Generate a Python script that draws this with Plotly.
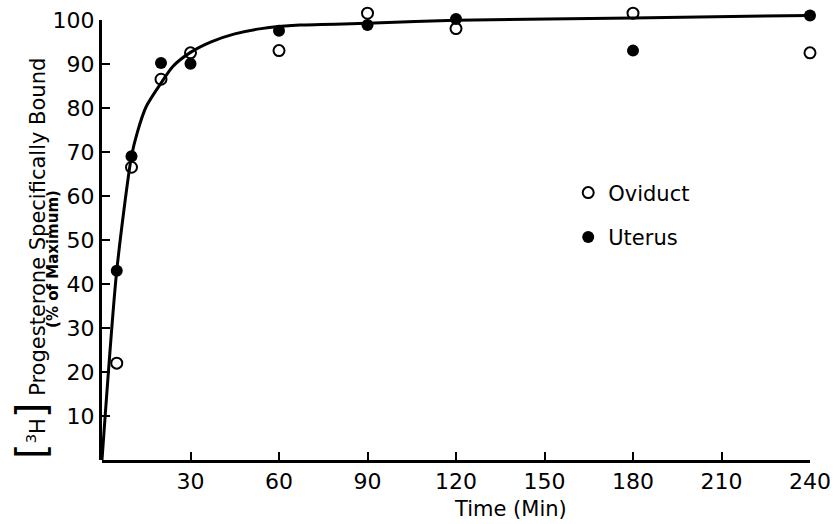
import plotly.graph_objects as go

# Incubation time (min)
time_min = [5, 10, 20, 30, 60, 90, 120, 180, 240]

# [3H]progesterone specifically bound (% of maximum)
oviduct = [22, 66.5, 86.5, 92.5, 93, 101.5, 98, 101.5, 92.5]
uterus = [43, 69, 90.2, 90, 97.5, 98.8, 100.2, 93, 101]

# Hand-drawn saturation curve through the points
curve_t = [0, 5, 10, 12, 15, 20, 24, 30, 37, 45, 54, 67, 90, 120, 180, 240]
curve_v = [0, 43, 69, 74.5, 80.3, 85.6, 89.4, 92.6, 95, 96.8, 98, 98.8, 99.2, 99.9, 100.4, 101]

x_ticks = [30, 60, 90, 120, 150, 180, 210, 240]
y_ticks = [10, 20, 30, 40, 50, 60, 70, 80, 90, 100]

FONT = "DejaVu Sans"

# Data axis runs a little past 100 so points above the maximum stay visible;
# the labelled axis covers 0-100 only.
Y_TOP = 102
PX_PER_UNIT = 4.4
BOTTOM = 64
plot_h = Y_TOP * PX_PER_UNIT
top_margin = 524 - BOTTOM - plot_h
axis_frac = 100 / Y_TOP


def paper_y(px):
    """Convert a page pixel row into paper coordinates."""
    return (524 - BOTTOM - px) / plot_h


fig = go.Figure()

# empty trace that carries the labelled 0-100 axis (drawn first, underneath)
fig.add_trace(go.Scatter(x=[], y=[], yaxis="y2", showlegend=False, hoverinfo="skip"))

fig.add_trace(go.Scatter(
    x=curve_t, y=curve_v, mode="lines",
    line=dict(color="black", width=3, shape="spline", smoothing=0.7),
    showlegend=False, hoverinfo="skip",
))

fig.add_trace(go.Scatter(
    x=time_min, y=oviduct, mode="markers", name="Oviduct",
    legendgroup="ov", cliponaxis=False,
    marker=dict(symbol="circle-open", size=11, color="black",
                line=dict(color="black", width=2)),
))

fig.add_trace(go.Scatter(
    x=time_min, y=uterus, mode="markers", name="Uterus",
    legendgroup="ut", cliponaxis=False,
    marker=dict(symbol="circle", size=12, color="black"),
))

fig.update_layout(
    width=834, height=524,
    margin=dict(l=102, r=24, t=top_margin, b=BOTTOM),
    paper_bgcolor="white", plot_bgcolor="rgba(0,0,0,0)",
    font=dict(family=FONT, color="black", size=22),
    legend=dict(
        x=0.6585, y=paper_y(172.6), xanchor="left", yanchor="top",
        bgcolor="rgba(0,0,0,0)", font=dict(size=21),
        tracegroupgap=14, traceorder="grouped",
    ),
    xaxis=dict(
        range=[0, 240], tickvals=x_ticks, ticktext=[str(v) for v in x_ticks],
        showline=True, linecolor="black", linewidth=3,
        ticks="inside", ticklen=8, tickwidth=1.5, tickcolor="black",
        showgrid=False, zeroline=False, automargin=False,
        tickfont=dict(size=22),
    ),
    yaxis=dict(
        range=[0, Y_TOP], domain=[0, 1],
        showline=False, showticklabels=False, ticks="",
        showgrid=False, zeroline=False, automargin=False,
    ),
    yaxis2=dict(
        range=[0, 100], domain=[0, axis_frac], anchor="x",
        tickvals=y_ticks, ticktext=[str(v) for v in y_ticks],
        showline=True, linecolor="black", linewidth=3,
        ticks="inside", ticklen=8, tickwidth=1.5, tickcolor="black",
        showgrid=False, zeroline=False, automargin=False,
        tickfont=dict(size=22),
    ),
)

fig.add_annotation(
    text="Time (Min)", xref="paper", yref="paper",
    x=0, xshift=510 - 102, y=paper_y(509),
    xanchor="center", yanchor="middle", showarrow=False,
    font=dict(size=21),
)

fig.add_annotation(
    text='<span style="font-size:40px">[</span><sup>3</sup>H<span style="font-size:40px">]</span> Progesterone Specifically Bound',
    xref="paper", yref="paper",
    x=0, xshift=31 - 102, y=paper_y(259),
    xanchor="center", yanchor="middle", textangle=-90, showarrow=False,
    font=dict(size=21),
)

fig.add_annotation(
    text="<b>(% of Maximum)</b>",
    xref="paper", yref="paper",
    x=0, xshift=53 - 102, y=paper_y(259),
    xanchor="center", yanchor="middle", textangle=-90, showarrow=False,
    font=dict(size=15),
)

fig.write_html("out.html")
